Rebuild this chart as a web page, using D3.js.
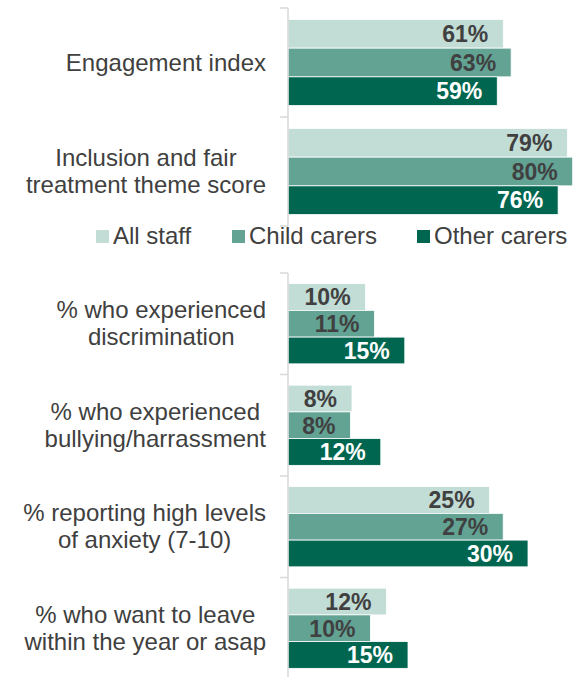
<!DOCTYPE html>
<html>
<head>
<meta charset="utf-8">
<script src="https://cdn.jsdelivr.net/npm/d3@7"></script>
<style>
  body { margin: 0; background: #fff; }
  text { font-family: "Liberation Sans", Arial, sans-serif; }
</style>
</head>
<body>
<script>
// series and colours
var series = ['All staff', 'Child carers', 'Other carers'];
var colours = ['#c2dcd6', '#62a394', '#006650'];
var labelColours = ['#404040', '#404040', '#ffffff'];

// top panel (labels are rounded)
var topCats = ['Engagement index', 'Inclusion and fair\ntreatment theme score'];
var topAll   = [60.5, 78.5];
var topChild = [62.7, 80];
var topOther = [58.8, 75.9];

// bottom panel
var botCats = ['% who experienced\ndiscrimination',
               '% who experienced\nbullying/harrassment',
               '% reporting high levels\nof anxiety (7-10)',
               '% who want to leave\nwithin the year or asap'];
var botAll   = [9.7, 8.0, 25.2, 12.3];
var botChild = [10.8, 7.8, 26.9, 10.3];
var botOther = [14.6, 11.6, 30.0, 15.0];

var WIDTH = 587, HEIGHT = 677;
var AXIS_X = 288;

var svg = d3.select('body').append('svg')
            .attr('width', WIDTH)
            .attr('height', HEIGHT);

function panel(cats, vals, xMax, xEnd, yTop, yBot) {
  var rows = cats.map(function(c, i) {
    return { cat: c, vals: vals.map(function(v) { return v[i]; }) };
  });

  var x = d3.scaleLinear().domain([0, xMax]).range([AXIS_X, xEnd]);
  var y0 = d3.scaleBand().domain(cats).range([yTop, yBot]).padding(0);
  var bw = y0.bandwidth();
  var y1 = d3.scaleBand().domain(series).range([bw * 0.105, bw * 0.895]).padding(0);

  var g = svg.append('g');

  // bars
  var groups = g.selectAll('g.cat')
    .data(rows)
    .enter()
    .append('g')
    .attr('class', 'cat')
    .attr('transform', function(d) { return 'translate(0,' + y0(d.cat) + ')'; });

  groups.selectAll('rect')
    .data(function(d) { return d.vals.map(function(v, i) { return { s: series[i], v: v, i: i }; }); })
    .enter()
    .append('rect')
    .attr('x', x(0))
    .attr('y', function(d) { return y1(d.s); })
    .attr('width', function(d) { return x(d.v) - x(0); })
    .attr('height', y1.bandwidth())
    .attr('fill', function(d) { return colours[d.i]; })
    .attr('stroke', '#ffffff')
    .attr('stroke-width', 0.8);

  // value labels, inside end
  groups.selectAll('text.val')
    .data(function(d) { return d.vals.map(function(v, i) { return { s: series[i], v: v, i: i }; }); })
    .enter()
    .append('text')
    .attr('class', 'val')
    .attr('x', function(d) { return x(d.v) - 15; })
    .attr('y', function(d) { return y1(d.s) + y1.bandwidth() / 2; })
    .attr('dy', '0.36em')
    .attr('text-anchor', 'end')
    .attr('font-size', 23)
    .attr('font-weight', 'bold')
    .attr('fill', function(d) { return labelColours[d.i]; })
    .text(function(d) { return Math.round(d.v) + '%'; });

  // axis line and ticks between categories
  g.append('line')
    .attr('x1', AXIS_X).attr('x2', AXIS_X)
    .attr('y1', yTop).attr('y2', yBot)
    .attr('stroke', '#d9d9d9').attr('stroke-width', 1.5);

  var bounds = cats.map(function(c) { return y0(c); }).concat([yBot]);
  g.selectAll('line.tick')
    .data(bounds)
    .enter()
    .append('line')
    .attr('class', 'tick')
    .attr('x1', AXIS_X - 8).attr('x2', AXIS_X)
    .attr('y1', function(d) { return d; })
    .attr('y2', function(d) { return d; })
    .attr('stroke', '#d9d9d9').attr('stroke-width', 1.5);

  // category labels: block right-aligned at 266, lines centred
  groups.each(function(d) {
    var lines = d.cat.split('\n');
    var t = d3.select(this).append('text')
      .attr('font-size', 24)
      .attr('fill', '#404040')
      .attr('text-anchor', 'middle');
    var lh = 27.3;
    var first = bw / 2 + 8 - (lines.length - 1) * lh / 2;
    var spans = lines.map(function(l, k) {
      return t.append('tspan').attr('y', first + k * lh).text(l);
    });
    var maxW = d3.max(spans, function(s) { return s.node().getComputedTextLength(); });
    spans.forEach(function(s) { s.attr('x', 266 - maxW / 2); });
  });
}

panel(topCats, [topAll, topChild, topOther], 80, 572.7, 8, 226);
panel(botCats, [botAll, botChild, botOther], 30, 528, 273, 679);

// legend
var legendX = [96, 232, 417];
var legend = svg.append('g').selectAll('g')
  .data(series)
  .enter()
  .append('g')
  .attr('transform', function(d, i) { return 'translate(' + legendX[i] + ',230)'; });

legend.append('rect')
  .attr('width', 13).attr('height', 13)
  .attr('fill', function(d, i) { return colours[i]; });

legend.append('text')
  .attr('x', 17)
  .attr('y', 14)
  .attr('font-size', 24)
  .attr('fill', '#404040')
  .text(function(d) { return d; });
</script>
</body>
</html>
